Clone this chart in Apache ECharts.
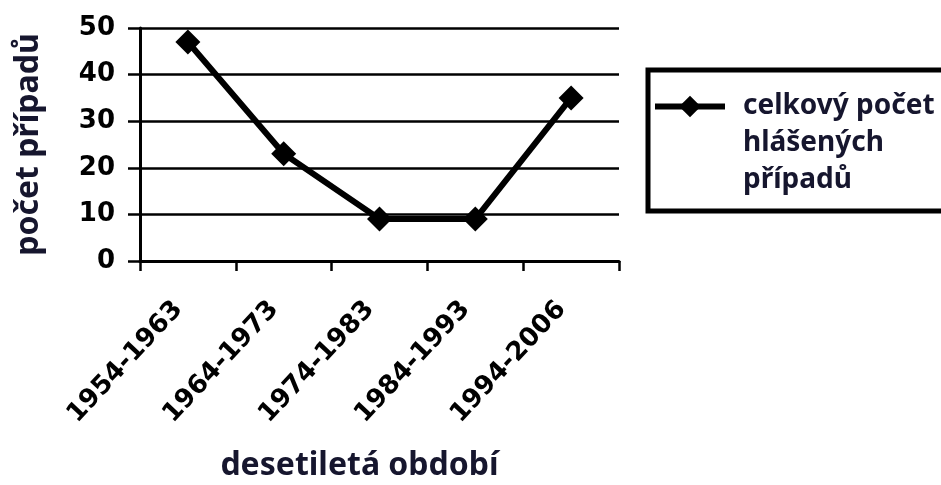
<!DOCTYPE html>
<html>
<head>
<meta charset="utf-8">
<script src="https://cdn.jsdelivr.net/npm/echarts@6/dist/echarts.min.js"></script>
<style>
  html, body { margin: 0; padding: 0; background: #fff; }
  #chart { width: 941px; height: 485px; }
</style>
</head>
<body>
<div id="chart"></div>
<script>
// Počet hlášených případů podle desetiletí
const categories = ['1954-1963', '1964-1973', '1974-1983', '1984-1993', '1994-2006'];
const cases = [47, 23, 9, 9, 35];
const yTicks = { min: 0, max: 50, interval: 10 };
const seriesName = 'celkový počet\nhlášených\npřípadů';

const ink = '#000';
const titleInk = '#16162e';

const chart = echarts.init(document.getElementById('chart'), null, { renderer: 'canvas' });

chart.setOption({
  animation: false,
  backgroundColor: '#fff',
  grid: { left: 140, right: 322, top: 28, bottom: 224, outerBoundsMode: 'none', containLabel: false },
  xAxis: {
    type: 'category',
    data: categories,
    boundaryGap: true,
    name: 'desetiletá období',
    nameLocation: 'middle',
    nameGap: 189,
    nameTextStyle: {
      fontFamily: 'Noto Sans', fontWeight: 'bold', fontSize: 32, color: titleInk,
      padding: [0, 40, 0, 0]
    },
    axisLine: { lineStyle: { color: ink, width: 3 } },
    axisTick: { show: true, alignWithLabel: false, inside: false, length: 10, lineStyle: { color: ink, width: 2.5 } },
    axisLabel: {
      rotate: 47, margin: 34, interval: 0,
      fontFamily: 'DejaVu Sans', fontWeight: 'bold', fontSize: 26, color: ink,
      padding: [0, 14, 0, 0]
    },
    splitLine: { show: false }
  },
  yAxis: {
    type: 'value',
    min: yTicks.min, max: yTicks.max, interval: yTicks.interval,
    name: 'počet případů',
    nameLocation: 'middle',
    nameGap: 95,
    nameTextStyle: { fontFamily: 'Noto Sans', fontWeight: 'bold', fontSize: 32, color: titleInk },
    axisLine: { show: true, lineStyle: { color: ink, width: 3 } },
    axisTick: { show: true, inside: false, length: 12, lineStyle: { color: ink, width: 2.5 } },
    axisLabel: { margin: 25, fontFamily: 'DejaVu Sans', fontWeight: 'bold', fontSize: 26, color: ink },
    splitLine: { show: true, lineStyle: { color: ink, width: 2.5 } }
  },
  legend: {
    show: true,
    orient: 'vertical',
    left: 652,
    top: 14,
    padding: 0,
    itemWidth: 70,
    itemHeight: 27,
    lineStyle: { width: 6, color: ink },
    formatter: function (name) { return '\n\n' + name; },
    textStyle: {
      fontFamily: 'Noto Sans', fontWeight: 'bold', fontSize: 28, lineHeight: 37,
      color: titleInk, padding: [0, 0, 0, 13]
    },
    data: [seriesName]
  },
  graphic: [{
    type: 'rect',
    shape: { x: 648, y: 70, width: 400, height: 141 },
    style: { fill: 'none', stroke: ink, lineWidth: 5 },
    silent: true
  }],
  series: [{
    name: seriesName,
    type: 'line',
    data: cases,
    symbol: 'diamond',
    symbolSize: 25,
    showSymbol: true,
    itemStyle: { color: ink },
    lineStyle: { color: ink, width: 6, join: 'round' }
  }]
});
</script>
</body>
</html>
